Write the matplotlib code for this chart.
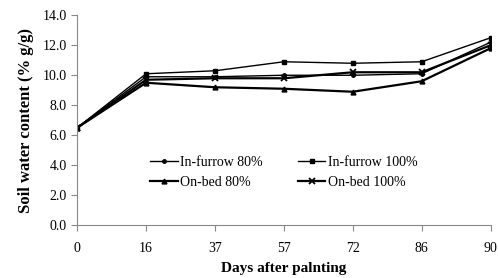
import matplotlib.pyplot as plt

# Data
days = ["0", "16", "37", "57", "72", "86", "90"]
infurrow_80 = [6.5, 9.9, 9.9, 10.0, 10.0, 10.1, 12.2]
infurrow_100 = [6.5, 10.1, 10.3, 10.9, 10.8, 10.9, 12.5]
onbed_80 = [6.5, 9.5, 9.2, 9.1, 8.9, 9.6, 11.8]
onbed_100 = [6.5, 9.7, 9.8, 9.8, 10.2, 10.2, 12.0]

plt.rcParams["font.family"] = ["Liberation Serif", "DejaVu Serif"]

fig = plt.figure(figsize=(4.98, 2.78), dpi=100)
ax = fig.add_axes([0.155, 0.19, 0.83, 0.755])

x = range(len(days))
l1, = ax.plot(x, infurrow_80, color="black", lw=1.0, marker="o", ms=2.5, label="In-furrow 80%")
l2, = ax.plot(x, infurrow_100, color="black", lw=1.0, marker="s", ms=3.5, label="In-furrow 100%")
l3, = ax.plot(x, onbed_80, color="black", lw=1.6, marker="^", ms=3.5, label="On-bed 80%")
l4, = ax.plot(x, onbed_100, color="black", lw=1.6, marker="x", ms=4.5, mew=1.3, label="On-bed 100%")

ax.set_xlim(0, len(days) - 1)
ax.set_ylim(0, 14)
ax.set_xticks(list(x))
ax.set_xticklabels(days)
ax.set_yticks([0, 2, 4, 6, 8, 10, 12, 14])
ax.set_yticklabels(["%.1f" % v for v in [0, 2, 4, 6, 8, 10, 12, 14]])
ax.tick_params(labelsize=10, color="#888888", length=4, direction="out")
ax.tick_params(axis="x", pad=8)

for s in ["top", "right"]:
    ax.spines[s].set_visible(False)
for s in ["left", "bottom"]:
    ax.spines[s].set_color("#888888")

ax.set_ylabel("Soil water content (% g/g)", fontsize=12, fontweight="bold", labelpad=6)
ax.set_xlabel("Days after palnting", fontsize=11, fontweight="bold", labelpad=5)

# column-first fill: order so rows read In-furrow / On-bed
ax.legend([l1, l3, l2, l4], [l1.get_label(), l3.get_label(), l2.get_label(), l4.get_label()],
          ncol=2, frameon=False, fontsize=10, loc="center", bbox_to_anchor=(0.5, 0.25),
          handlelength=2.0, handletextpad=0.2, columnspacing=2.5, labelspacing=0.5)

fig.savefig("out.png", dpi=100)
